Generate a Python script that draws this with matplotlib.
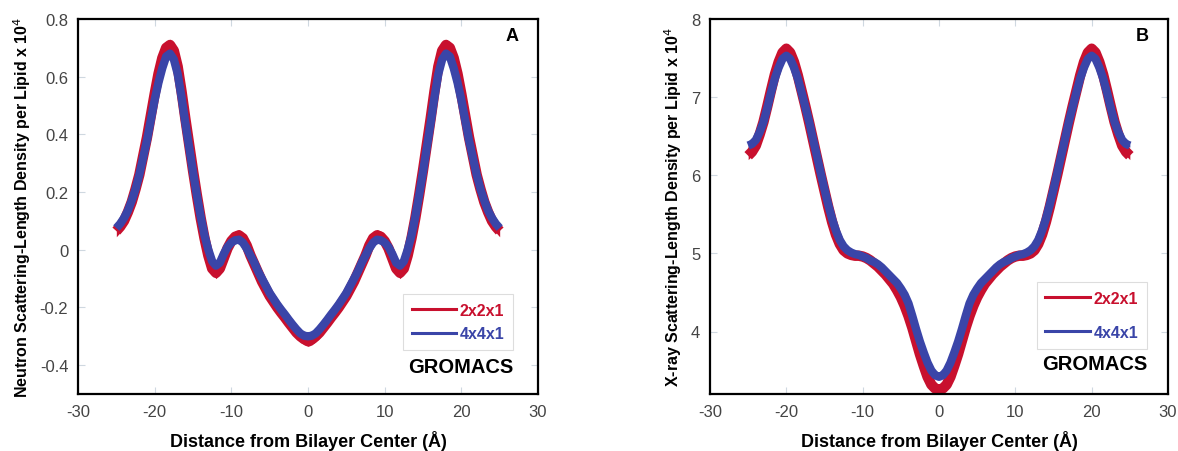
import numpy as np
import matplotlib
matplotlib.use('Agg')
import matplotlib.pyplot as plt
from matplotlib.lines import Line2D

plt.rcParams['font.family'] = ['Liberation Sans', 'DejaVu Sans']

# half profiles, x = -25 .. 0 in 0.5 A steps (profiles are symmetric about the bilayer center)
x_half = np.arange(-25, 0.01, 0.5)

# panel A: neutron SLD
neu_2x2 = [0.065, 0.08, 0.10, 0.13, 0.165, 0.21, 0.26, 0.325, 0.39, 0.465, 0.54, 0.61, 0.665,
           0.70, 0.71, 0.69, 0.635, 0.55, 0.455, 0.365, 0.275, 0.19, 0.11, 0.04, -0.02,
           -0.065, -0.08, -0.065, -0.03, 0.005, 0.03, 0.045, 0.05, 0.04, 0.015, -0.02,
           -0.05, -0.08, -0.11, -0.135, -0.16, -0.18, -0.20, -0.218, -0.235, -0.253,
           -0.27, -0.287, -0.30, -0.31, -0.315]
neu_4x4 = [0.075, 0.09, 0.11, 0.135, 0.17, 0.21, 0.26, 0.32, 0.38, 0.45, 0.52, 0.58, 0.63,
           0.67, 0.68, 0.66, 0.61, 0.53, 0.44, 0.355, 0.27, 0.19, 0.115, 0.05, 0.0,
           -0.04, -0.055, -0.045, -0.015, 0.01, 0.025, 0.033, 0.035, 0.025, 0.005, -0.02,
           -0.045, -0.075, -0.10, -0.125, -0.15, -0.17, -0.19, -0.208, -0.225, -0.243,
           -0.26, -0.276, -0.29, -0.298, -0.30]
neu_err_2x2 = 0.02
neu_err_4x4 = 0.008

# panel B: X-ray SLD
xr_2x2 = [6.25, 6.30, 6.38, 6.52, 6.68, 6.88, 7.09, 7.29, 7.45, 7.57, 7.62, 7.57, 7.45,
          7.28, 7.08, 6.88, 6.67, 6.45, 6.23, 6.01, 5.80, 5.59, 5.40, 5.24, 5.12,
          5.04, 5.00, 4.98, 4.97, 4.97, 4.96, 4.94, 4.91, 4.87, 4.83, 4.78,
          4.73, 4.67, 4.61, 4.53, 4.44, 4.33, 4.20, 4.05, 3.88, 3.71,
          3.56, 3.42, 3.32, 3.27, 3.25]
xr_4x4 = [6.38, 6.40, 6.45, 6.55, 6.68, 6.86, 7.06, 7.24, 7.38, 7.49, 7.53, 7.49, 7.38,
          7.24, 7.06, 6.87, 6.68, 6.46, 6.25, 6.03, 5.82, 5.62, 5.44, 5.29, 5.17,
          5.09, 5.04, 5.01, 4.99, 4.98, 4.96, 4.94, 4.91, 4.89, 4.86, 4.82,
          4.77, 4.72, 4.67, 4.62, 4.55, 4.47, 4.36, 4.20, 4.03, 3.87,
          3.73, 3.60, 3.50, 3.44, 3.42]
xr_err_2x2 = 0.05
xr_err_4x4 = 0.02

labels = ['2x2x1', '4x4x1']
colors = ['#c8102e', '#3a45a8']


def mirror(v):
    v = np.asarray(v, dtype=float)
    return np.concatenate([v, v[-2::-1]])


x = np.concatenate([x_half, -x_half[-2::-1]])

fig = plt.figure(figsize=(11.78, 4.52), dpi=100)
axA = fig.add_axes([78 / 1178, 57 / 452, 460 / 1178, 375 / 452])
axB = fig.add_axes([710 / 1178, 57 / 452, 458 / 1178, 375 / 452])

panels = [
    (axA, [neu_2x2, neu_4x4], [neu_err_2x2, neu_err_4x4], (-0.5, 0.8),
     np.arange(-0.4, 0.81, 0.2), ['-0.4', '-0.2', '0', '0.2', '0.4', '0.6', '0.8'],
     'Neutron Scattering-Length Density per Lipid x 10$^4$', 'A',
     (0.946, 0.267), 0.55, 0.072),
    (axB, [xr_2x2, xr_4x4], [xr_err_2x2, xr_err_4x4], (3.2, 8.0),
     np.arange(4, 8.1, 1), ['4', '5', '6', '7', '8'],
     'X-ray Scattering-Length Density per Lipid x 10$^4$', 'B',
     (0.954, 0.299), 1.2, 0.08),
]

for ax, series, errs, ylim, yticks, yticklabels, ylabel, letter, leg_anchor, lsp, gy in panels:
    for vals, err, c, lw in zip(series, errs, colors, [7.5, 6.0]):
        y = mirror(vals)
        ax.fill_between(x, y - err, y + err, color=c, lw=0)
        ax.plot(x, y, color=c, lw=lw, solid_capstyle='butt', solid_joinstyle='round')

    ax.set_xlim(-30, 30)
    ax.set_ylim(*ylim)
    ax.set_xticks(np.arange(-30, 31, 10))
    ax.set_xticklabels([str(v) for v in range(-30, 31, 10)])
    ax.set_yticks(yticks)
    ax.set_yticklabels(yticklabels)
    ax.tick_params(direction='in', top=True, right=True, length=5, width=0.8,
                   color='#cfd8e0', labelsize=12, labelcolor='#444444', pad=7)
    for s in ax.spines.values():
        s.set_linewidth(1.6)
        s.set_color('black')

    ax.set_xlabel('Distance from Bilayer Center (Å)', fontsize=13, fontweight='bold', labelpad=8)
    ax.set_ylabel(ylabel, fontsize=11.5, fontweight='bold', labelpad=5)

    ax.text(0.943, 0.957, letter, transform=ax.transAxes, fontsize=13,
            fontweight='bold', ha='center', va='center')

    handles = [Line2D([], [], color=c, lw=2.2) for c in colors]
    leg = ax.legend(handles, labels, loc='upper right', bbox_to_anchor=leg_anchor,
                    borderaxespad=0, fancybox=False, framealpha=1, edgecolor='#dddddd',
                    prop={'weight': 'bold', 'size': 11.5}, handlelength=2.8,
                    handletextpad=0.2, labelspacing=lsp, borderpad=0.55)
    leg.get_frame().set_linewidth(0.8)
    for t, c in zip(leg.get_texts(), colors):
        t.set_color(c)

    ax.text(leg_anchor[0], gy, 'GROMACS', transform=ax.transAxes, fontsize=14.5,
            fontweight='bold', ha='right', va='center')

fig.savefig('out.png', dpi=100)
